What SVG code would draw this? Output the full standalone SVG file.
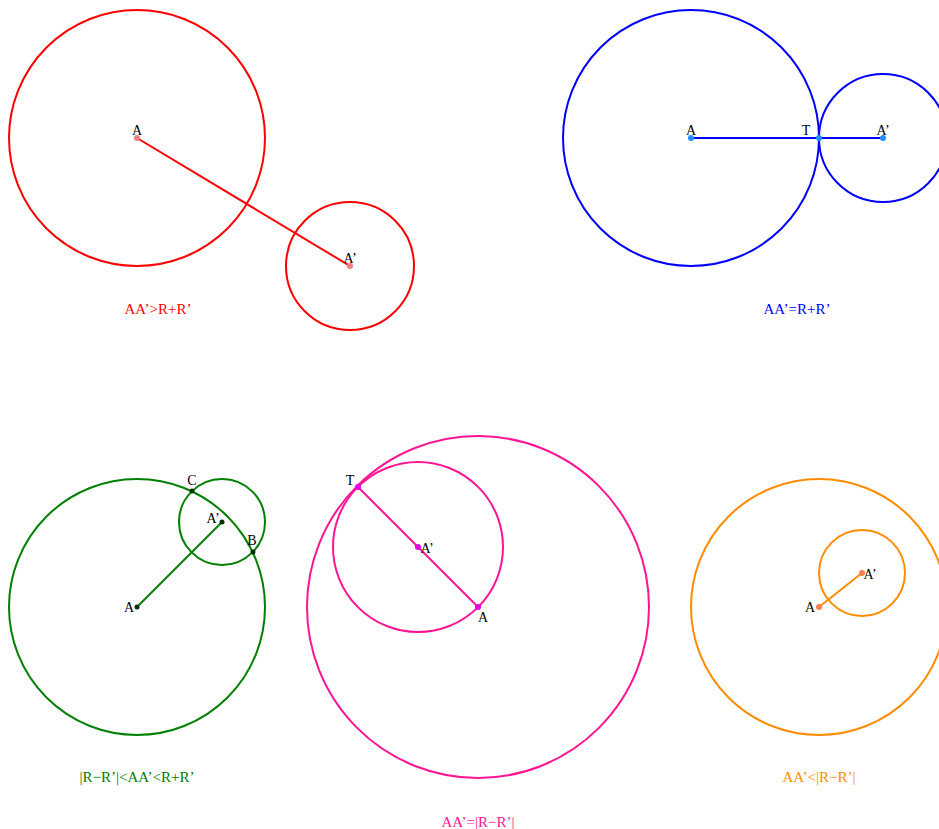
<svg xmlns="http://www.w3.org/2000/svg" width="939" height="829" viewBox="0 0 939 829">
<style>
text{font-family:"Liberation Serif","Times New Roman",serif;font-size:14px;fill:#000}
.c{fill:none;stroke-width:2}
.l{stroke-width:2}
.cap{text-anchor:middle;font-size:15px}
.m{text-anchor:middle}
.red{stroke:#ff0000}
.blue{stroke:#0000ff}
.green{stroke:#008000}
.pink{stroke:#ff1493}
.orange{stroke:#ff8c00}
</style>
<rect width="939" height="829" fill="#fff"/>
<g id="connectors">
<line class="l red" x1="137" y1="138" x2="350" y2="266"/>
<line class="l blue" x1="691" y1="138" x2="883" y2="138"/>
<line class="l green" x1="137" y1="607" x2="222" y2="522"/>
<line class="l pink" x1="358" y1="487" x2="478" y2="607"/>
<line class="l orange" x1="819" y1="607" x2="862" y2="573"/>
</g>
<g id="case-secant-apart">
<circle class="c red" cx="137" cy="138" r="128"/>
<circle class="c red" cx="350" cy="266" r="64"/>
<circle cx="137" cy="138" r="3" fill="#f08080"/>
<circle cx="350" cy="266" r="3" fill="#f08080"/>
<text class="m" x="137" y="135">A</text>
<text class="m" x="350" y="263">A’</text>
<text class="cap" x="158" y="314" style="fill:#ff0000">AA’&gt;R+R’</text>
</g>
<g id="case-external-tangent">
<circle class="c blue" cx="691" cy="138" r="128"/>
<circle class="c blue" cx="883" cy="138" r="64"/>
<circle cx="691" cy="138" r="3" fill="#1e90ff"/>
<circle cx="819" cy="138" r="3" fill="#1e90ff"/>
<circle cx="883" cy="138" r="3" fill="#1e90ff"/>
<text class="m" x="691" y="135">A</text>
<text class="m" x="806" y="135">T</text>
<text class="m" x="883" y="135">A’</text>
<text class="cap" x="797" y="314" style="fill:#0000ff">AA’=R+R’</text>
</g>
<g id="case-intersecting">
<circle class="c green" cx="137" cy="607" r="128"/>
<circle class="c green" cx="222" cy="522" r="43"/>
<circle cx="137" cy="607" r="2.5" fill="#003300"/>
<circle cx="222" cy="522" r="2.5" fill="#003300"/>
<circle cx="192" cy="491" r="2.5" fill="#003300"/>
<circle cx="253" cy="552" r="2.5" fill="#003300"/>
<text class="m" x="129" y="612">A</text>
<text class="m" x="213" y="523">A’</text>
<text class="m" x="252" y="545">B</text>
<text class="m" x="192" y="485">C</text>
<text class="cap" x="137" y="782" style="fill:#008000">|R−R’|&lt;AA’&lt;R+R’</text>
</g>
<g id="case-internal-tangent">
<circle class="c pink" cx="478" cy="607" r="171"/>
<circle class="c pink" cx="418" cy="547" r="85"/>
<circle cx="358" cy="487" r="3" fill="#e600e6"/>
<circle cx="418" cy="547" r="3" fill="#e600e6"/>
<circle cx="478" cy="607" r="3" fill="#e600e6"/>
<text class="m" x="350" y="485">T</text>
<text class="m" x="427" y="553">A’</text>
<text class="m" x="483" y="622">A</text>
<text class="cap" x="478" y="827" style="fill:#ff1493">AA’=|R−R’|</text>
</g>
<g id="case-interior">
<circle class="c orange" cx="819" cy="607" r="128"/>
<circle class="c orange" cx="862" cy="573" r="43"/>
<circle cx="819" cy="607" r="3" fill="#ff7f50"/>
<circle cx="862" cy="573" r="3" fill="#ff7f50"/>
<text class="m" x="810" y="612">A</text>
<text class="m" x="870" y="579">A’</text>
<text class="cap" x="819" y="782" style="fill:#ff8c00">AA’&lt;|R−R’|</text>
</g>
</svg>
